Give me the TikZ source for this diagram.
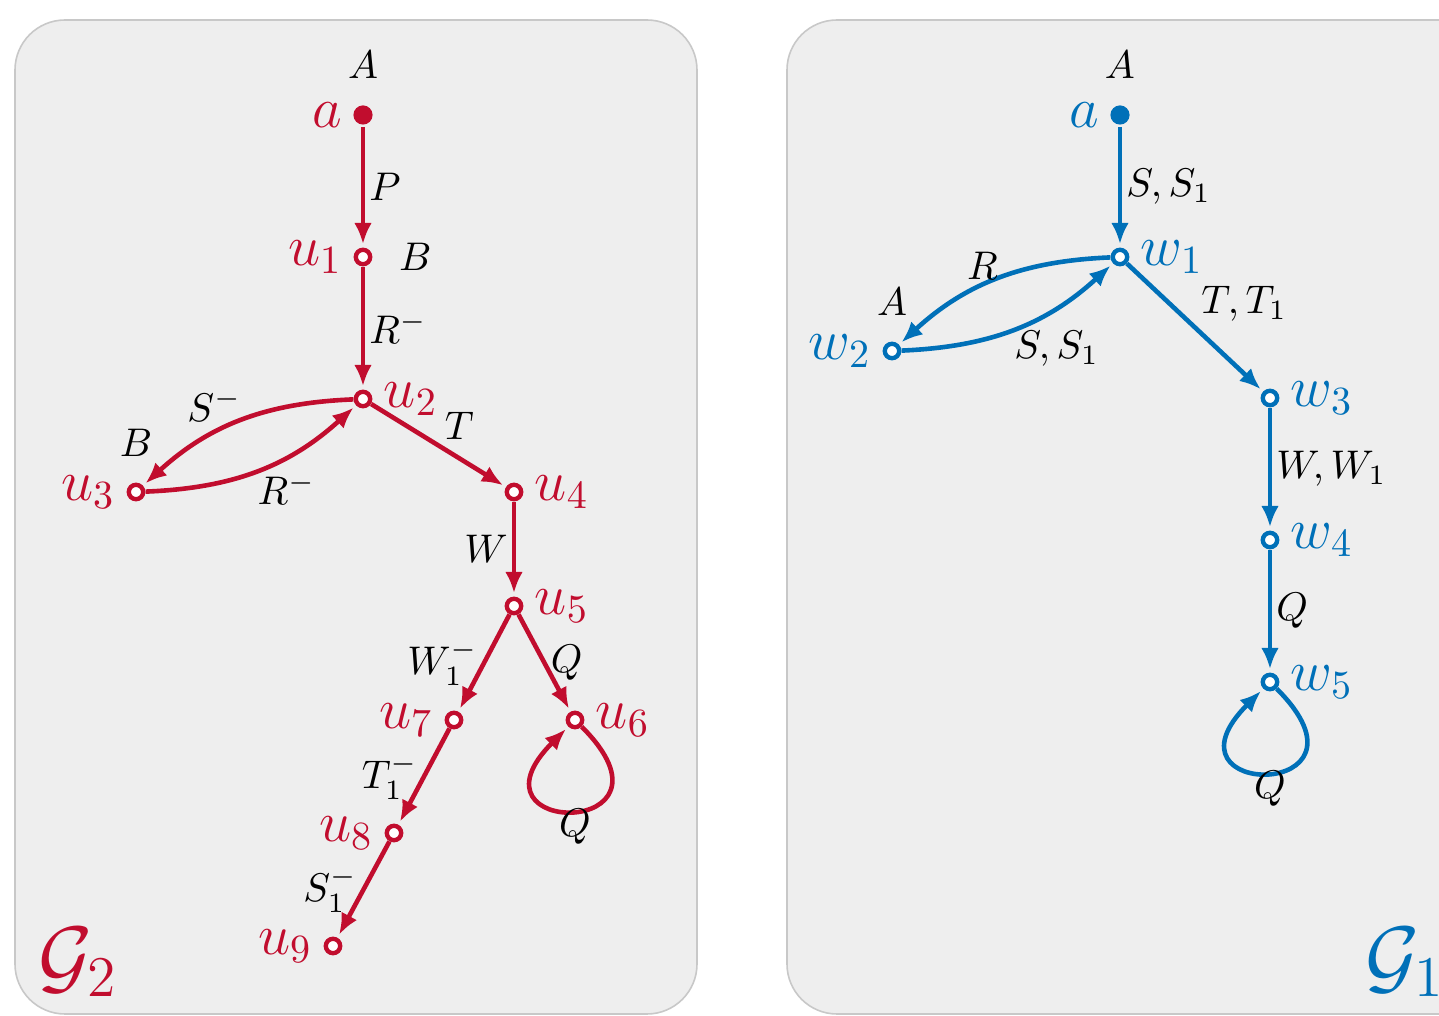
\documentclass[tikz,border=0pt]{standalone}
\usetikzlibrary{arrows.meta,positioning}
\definecolor{cred}{RGB}{193,13,46}
\definecolor{cblue}{RGB}{0,112,184}
\definecolor{pfill}{RGB}{238,238,238}
\definecolor{pline}{RGB}{200,200,200}
\tikzset{
  panel/.style={draw=pline, fill=pfill, line width=0.4pt, rounded corners=12.5pt},
  vtx/.style={circle, draw, line width=1.1pt, fill=white, inner sep=0pt, minimum size=3.6pt, outer sep=0.6pt},
  srcdot/.style={circle, inner sep=0pt, minimum size=4.8pt, outer sep=0.6pt},
  edg/.style={line width=1.15pt, -{Latex[length=5.3pt,width=4.4pt]}, shorten >=0.8pt},
  elab/.style={text=black, inner sep=1pt, font=\normalsize},
  uplab/.style={elab, anchor=south east, xshift=2pt, yshift=-1.5pt},
  lowlab/.style={elab, anchor=north west, xshift=-2pt, yshift=0.8pt},
  looplab/.style={elab, below, inner sep=0pt, yshift=1pt},
  vlab/.style={inner sep=1pt, font=\Large},
  tlab/.style={text=black, inner sep=1pt, font=\normalsize},
  glab/.style={inner sep=0pt, font=\huge},
}
\begin{document}
\begin{tikzpicture}[x=0.25pt,y=-0.25pt]
\useasboundingbox (0,0) rectangle (1439,1016);
\clip (0,0) rectangle (1439,1016);
% panels
\path[panel] (15,20) rectangle (697,1014);
\path[panel] (787,20) rectangle (1520,1014);

% ---------- left graph (G2) ----------
\node[srcdot, fill=cred] (a1) at (363,115) {};
\node[vtx, draw=cred] (u1) at (363,257) {};
\node[vtx, draw=cred] (u2) at (363,399) {};
\node[vtx, draw=cred] (u3) at (136,492) {};
\node[vtx, draw=cred] (u4) at (514,492) {};
\node[vtx, draw=cred] (u5) at (514,606) {};
\node[vtx, draw=cred] (u6) at (575,720) {};
\node[vtx, draw=cred] (u7) at (454,720) {};
\node[vtx, draw=cred] (u8) at (394,833) {};
\node[vtx, draw=cred] (u9) at (333,946) {};

\node[vlab, text=cred, left=1.1pt of a1] (a1l) {$a$};
\node[vlab, text=cred, left=1.6pt of u1] (u1l) {$u_1$};
\node[vlab, text=cred, right=1.6pt of u2] (u2l) {$u_2$};
\node[vlab, text=cred, left=1.6pt of u3] (u3l) {$u_3$};
\node[vlab, text=cred, right=1.6pt of u4] (u4l) {$u_4$};
\node[vlab, text=cred, right=1.6pt of u5] (u5l) {$u_5$};
\node[vlab, text=cred, right=1.6pt of u6] (u6l) {$u_6$};
\node[vlab, text=cred, left=1.6pt of u7] (u7l) {$u_7$};
\node[vlab, text=cred, left=1.6pt of u8] (u8l) {$u_8$};
\node[vlab, text=cred, left=1.6pt of u9] (u9l) {$u_9$};

\node[tlab, above=4.8pt of a1] (a1t) {$A$};
\node[tlab, right=5.4pt of u1] (u1t) {$B$};
\node[tlab, above=5.2pt of u3] (u3t) {$B$};

\draw[edg, cred] (a1) -- node[elab, right] {$P$} (u1);
\draw[edg, cred] (u1) -- node[elab, right] {$R^-$} (u2);
\draw[edg, cred] (u2) to[bend right=20] node[uplab] {$S^-$} (u3);
\draw[edg, cred] (u3) to[bend right=20] node[lowlab] {$R^-$} (u2);
\draw[edg, cred] (u2) -- node[elab, anchor=south west] {$T$} (u4);
\draw[edg, cred] (u4) -- node[elab, left] {$W$} (u5);
\draw[edg, cred] (u5) -- node[elab, left] {$W_1^-$} (u7);
\draw[edg, cred] (u5) -- node[elab, right] {$Q$} (u6);
\draw[edg, cred] (u7) -- node[elab, left] {$T_1^-$} (u8);
\draw[edg, cred] (u8) -- node[elab, left] {$S_1^-$} (u9);
\draw[edg, cred] (u6) to[out=-45, in=-135, min distance=39.5pt] node[looplab] {$Q$} (u6);

\node[glab, text=cred] (g2) at (78,962) {$\mathcal{G}_2$};

% ---------- right graph (G1) ----------
\node[srcdot, fill=cblue] (a2) at (1120,115) {};
\node[vtx, draw=cblue] (w1) at (1120,257) {};
\node[vtx, draw=cblue] (w2) at (892,351) {};
\node[vtx, draw=cblue] (w3) at (1270,398) {};
\node[vtx, draw=cblue] (w4) at (1270,540) {};
\node[vtx, draw=cblue] (w5) at (1270,682) {};

\node[vlab, text=cblue, left=1.1pt of a2] (a2l) {$a$};
\node[vlab, text=cblue, right=1.6pt of w1] (w1l) {$w_1$};
\node[vlab, text=cblue, left=1.6pt of w2] (w2l) {$w_2$};
\node[vlab, text=cblue, right=1.6pt of w3] (w3l) {$w_3$};
\node[vlab, text=cblue, right=1.6pt of w4] (w4l) {$w_4$};
\node[vlab, text=cblue, right=1.6pt of w5] (w5l) {$w_5$};

\node[tlab, above=4.8pt of a2] (a2t) {$A$};
\node[tlab, above=5.2pt of w2] (w2t) {$A$};

\draw[edg, cblue] (a2) -- node[elab, right] {$S,S_1$} (w1);
\draw[edg, cblue] (w1) to[bend right=20] node[uplab] {$R$} (w2);
\draw[edg, cblue] (w2) to[bend right=20] node[lowlab] {$S,S_1$} (w1);
\draw[edg, cblue] (w1) -- node[elab, anchor=south west] {$T,T_1$} (w3);
\draw[edg, cblue] (w3) -- node[elab, right] {$W,W_1$} (w4);
\draw[edg, cblue] (w4) -- node[elab, right] {$Q$} (w5);
\draw[edg, cblue] (w5) to[out=-45, in=-135, min distance=39.5pt] node[looplab] {$Q$} (w5);

\node[glab, text=cblue] (g1) at (1405,962) {$\mathcal{G}_1$};
\end{tikzpicture}
\end{document}
